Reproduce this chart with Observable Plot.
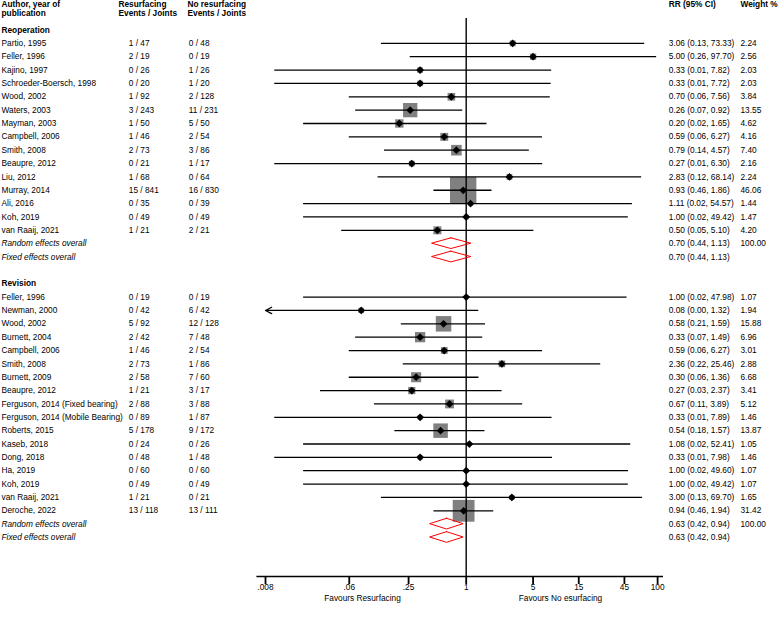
<!DOCTYPE html>
<html><head><meta charset="utf-8">
<script src="https://cdn.jsdelivr.net/npm/d3@7"></script>
<script src="https://cdn.jsdelivr.net/npm/@observablehq/plot@0.6"></script>
<style>body{margin:0;background:#fff} svg{display:block}</style>
</head><body><div id="chart"></div>
<script>
// ---------- data ----------
const reopStudies = ["Partio, 1995","Feller, 1996","Kajino, 1997","Schroeder-Boersch, 1998","Wood, 2002","Waters, 2003","Mayman, 2003","Campbell, 2006","Smith, 2008","Beaupre, 2012","Liu, 2012","Murray, 2014","Ali, 2016","Koh, 2019","van Raaij, 2021"];
const reopResurf = ["1 / 47","2 / 19","0 / 26","0 / 20","1 / 92","3 / 243","1 / 50","1 / 46","2 / 73","0 / 21","1 / 68","15 / 841","0 / 35","0 / 49","1 / 21"];
const reopNoResurf = ["0 / 48","0 / 19","1 / 26","1 / 20","2 / 128","11 / 231","5 / 50","2 / 54","3 / 86","1 / 17","0 / 64","16 / 830","0 / 39","0 / 49","2 / 21"];
const reopRR = [3.06,5.00,0.33,0.33,0.70,0.26,0.20,0.59,0.79,0.27,2.83,0.93,1.11,1.00,0.50];
const reopLo = [0.13,0.26,0.01,0.01,0.06,0.07,0.02,0.06,0.14,0.01,0.12,0.46,0.02,0.02,0.05];
const reopHi = [73.33,97.70,7.82,7.72,7.56,0.92,1.65,6.27,4.57,6.30,68.14,1.86,54.57,49.42,5.10];
const reopWeight = [2.24,2.56,2.03,2.03,3.84,13.55,4.62,4.16,7.40,2.16,2.24,46.06,1.44,1.47,4.20];

const revStudies = ["Feller, 1996","Newman, 2000","Wood, 2002","Burnett, 2004","Campbell, 2006","Smith, 2008","Burnett, 2009","Beaupre, 2012","Ferguson, 2014 (Fixed bearing)","Ferguson, 2014 (Mobile Bearing)","Roberts, 2015","Kaseb, 2018","Dong, 2018","Ha, 2019","Koh, 2019","van Raaij, 2021","Deroche, 2022"];
const revResurf = ["0 / 19","0 / 42","5 / 92","2 / 42","1 / 46","2 / 73","2 / 58","1 / 21","2 / 88","0 / 89","5 / 178","0 / 24","0 / 48","0 / 60","0 / 49","1 / 21","13 / 118"];
const revNoResurf = ["0 / 19","6 / 42","12 / 128","7 / 48","2 / 54","1 / 86","7 / 60","3 / 17","3 / 88","1 / 87","9 / 172","0 / 26","1 / 48","0 / 60","0 / 49","0 / 21","13 / 111"];
const revRR = [1.00,0.08,0.58,0.33,0.59,2.36,0.30,0.27,0.67,0.33,0.54,1.08,0.33,1.00,1.00,3.00,0.94];
const revLo = [0.02,0.00,0.21,0.07,0.06,0.22,0.06,0.03,0.11,0.01,0.18,0.02,0.01,0.02,0.02,0.13,0.46];
const revHi = [47.98,1.32,1.59,1.49,6.27,25.46,1.36,2.37,3.89,7.89,1.57,52.41,7.98,49.60,49.42,69.70,1.94];
const revWeight = [1.07,1.94,15.88,6.96,3.01,2.88,6.68,3.41,5.12,1.46,13.87,1.05,1.46,1.07,1.07,1.65,31.42];

const sectionNames = ["Reoperation","Revision"];
const pooledLabels = ["Random effects overall","Fixed effects overall"];
const pooledWeight = ["100.00",""];
const reopPooledRR = [0.70,0.70], reopPooledLo = [0.44,0.44], reopPooledHi = [1.13,1.13];
const revPooledRR = [0.63,0.63], revPooledLo = [0.42,0.42], revPooledHi = [0.94,0.94];

const headerCols = ["Author, year of\npublication","Resurfacing\nEvents / Joints","No resurfacing\nEvents / Joints","RR (95% CI)","Weight %"];
const tickValues = [0.008,0.06,0.25,1,5,15,45,100];
const tickLabels = [".008",".06",".25","1","5","15","45","100"];
const favourLabels = ["Favours Resurfacing","Favours No esurfacing"];

// ---------- table ----------
const fmt = v => v.toFixed(2);
const studies = [], pooled = [], headers = [];
function addSection(start, name, names, rs, nrs, rr, lo, hi, wt, prr, plo, phi) {
  headers.push({row: start, text: name});
  names.forEach((n, i) => studies.push({row: start + 1 + i, author: n, resurf: rs[i], noResurf: nrs[i],
    rr: rr[i], lo: lo[i], hi: hi[i], weight: wt[i],
    rrText: `${fmt(rr[i])} (${fmt(lo[i])}, ${fmt(hi[i])})`, wText: fmt(wt[i])}));
  const base = start + 1 + names.length;
  pooledLabels.forEach((l, i) => pooled.push({row: base + i, id: name + i, author: l, rr: prr[i], lo: plo[i], hi: phi[i],
    rrText: `${fmt(prr[i])} (${fmt(plo[i])}, ${fmt(phi[i])})`, wText: pooledWeight[i]}));
  return base + pooledLabels.length;
}
let next = addSection(0, sectionNames[0], reopStudies, reopResurf, reopNoResurf, reopRR, reopLo, reopHi, reopWeight, reopPooledRR, reopPooledLo, reopPooledHi);
next = addSection(next + 1, sectionNames[1], revStudies, revResurf, revNoResurf, revRR, revLo, revHi, revWeight, revPooledRR, revPooledLo, revPooledHi);
const lastRow = next - 1;

const xFloor = tickValues[0];
const lineRows = studies.filter(d => d.lo >= xFloor);
const arrowRows = studies.filter(d => d.lo < xFloor);
const dh = 0.4;
const diamondPts = pooled.flatMap(d => [
  {id: d.id, y: d.row - dh, x1: d.rr, x2: d.rr},
  {id: d.id, y: d.row, x1: d.lo, x2: d.hi},
  {id: d.id, y: d.row + dh, x1: d.rr, x2: d.rr}
]);
const ticks = tickValues.map((v, i) => ({v, label: tickLabels[i]}));

// ---------- layout ----------
const W = 778, H = 622, mL = 256.7, mR = 116.3, mT = 18, mB = 46;
const fs = 8.3;
const font = "'Liberation Sans', Arial, Helvetica, sans-serif";
const leftX = [1, 118, 187];      // header column left edges (px)
const rightX = [668.3, 740];      // RR & weight column left edges (px)

function headerMark(i, anchor, px) {
  return Plot.text([headerCols[i]], {text: d => d, frameAnchor: anchor,
    dx: anchor === "top-left" ? px - mL : px - (W - mR), dy: -18,
    lineAnchor: "top", textAnchor: "start", fontSize: fs, fontWeight: "bold", lineHeight: 1.12});
}

const chart = Plot.plot({
  width: W, height: H,
  marginLeft: mL, marginRight: mR, marginTop: mT, marginBottom: mB,
  style: {fontFamily: font, fontSize: fs + "px", background: "#fff", color: "#000"},
  x: {type: "log", domain: [0.00655, 111.7]},
  y: {type: "linear", domain: [0, lastRow], range: [29.5, 537], axis: null},
  r: {type: "sqrt", domain: [0, d3.max(studies, d => d.weight)], range: [0, 14.9]},
  marks: [
    Plot.dot(studies, {x: "rr", y: "row", r: "weight", symbol: "square", fill: "#808080", stroke: null}),
    Plot.ruleY(lineRows, {x1: "lo", x2: "hi", y: "row", stroke: "#000", strokeWidth: 1.3}),
    Plot.arrow(arrowRows, {x1: "hi", x2: () => xFloor, y1: "row", y2: "row", stroke: "#000", strokeWidth: 1.3, headLength: 8, headAngle: 55}),
    Plot.ruleX([1], {stroke: "#000", strokeWidth: 1.4}),
    Plot.areaX(diamondPts, {y: "y", x1: "x1", x2: "x2", z: "id", fill: "none", stroke: "#ff0000", strokeWidth: 1}),
    Plot.dot(studies, {x: "rr", y: "row", symbol: "diamond2", r: 3.5, fill: "#000", stroke: null}),
    // x axis
    Plot.frame({anchor: "bottom", stroke: "#000", strokeWidth: 1.6}),
    Plot.axisX({ticks: tickValues, tickSize: 8, tickFormat: () => "", stroke: "#000", strokeWidth: 1.8, label: null}),
    Plot.text(ticks, {x: "v", text: "label", frameAnchor: "bottom", dy: 11, fontSize: fs, lineAnchor: "middle"}),
    // table columns
    Plot.text(headers, {y: "row", text: "text", frameAnchor: "left", dx: 1 - mL, textAnchor: "start", fontSize: fs, fontWeight: "bold"}),
    Plot.text(studies, {y: "row", text: "author", frameAnchor: "left", dx: 1 - mL, textAnchor: "start", fontSize: fs}),
    Plot.text(pooled, {y: "row", text: "author", frameAnchor: "left", dx: 1 - mL, textAnchor: "start", fontSize: fs, fontStyle: "italic"}),
    Plot.text(studies, {y: "row", text: "resurf", frameAnchor: "left", dx: 128.3 - mL, textAnchor: "start", fontSize: fs}),
    Plot.text(studies, {y: "row", text: "noResurf", frameAnchor: "left", dx: 188.3 - mL, textAnchor: "start", fontSize: fs}),
    Plot.text(studies.concat(pooled), {y: "row", text: "rrText", frameAnchor: "right", dx: rightX[0] - (W - mR), textAnchor: "start", fontSize: fs}),
    Plot.text(studies.concat(pooled), {y: "row", text: "wText", frameAnchor: "right", dx: rightX[1] - (W - mR), textAnchor: "start", fontSize: fs}),
    // column headers
    headerMark(0, "top-left", leftX[0]),
    headerMark(1, "top-left", leftX[1]),
    headerMark(2, "top-left", leftX[2]),
    headerMark(3, "top-right", rightX[0]),
    headerMark(4, "top-right", rightX[1]),
    // favours labels
    Plot.text([favourLabels[0]], {text: d => d, frameAnchor: "bottom", dx: 362 - (mL + (W - mL - mR) / 2), dy: 24, fontSize: fs}),
    Plot.text([favourLabels[1]], {text: d => d, frameAnchor: "bottom", dx: 560 - (mL + (W - mL - mR) / 2), dy: 24, fontSize: fs})
  ]
});
document.getElementById("chart").appendChild(chart);
</script></body></html>
